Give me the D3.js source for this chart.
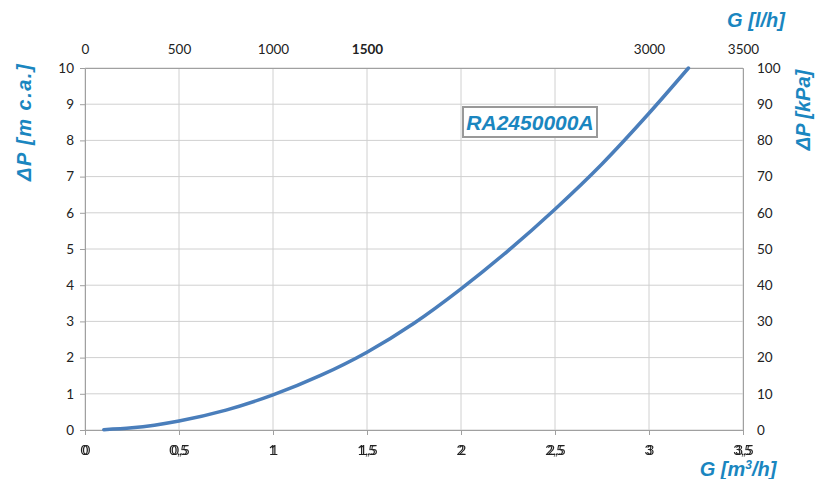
<!DOCTYPE html>
<html>
<head>
<meta charset="utf-8">
<script src="https://cdn.jsdelivr.net/npm/d3@7"></script>
<style>
  body { margin: 0; background: #fff; }
  text { font-family: Lato, "Open Sans", sans-serif; }
</style>
</head>
<body>
<script>
// flow in m3/h and pressure drop in m c.a.
const flowM3h = [0.1, 0.25, 0.5, 0.75, 1, 1.25, 1.5, 1.75, 2, 2.25, 2.5, 2.75, 3, 3.21];
const dropMca = [0.01, 0.06, 0.25, 0.55, 0.97, 1.5, 2.15, 2.95, 3.9, 4.95, 6.1, 7.35, 8.75, 10];

const bottomTicks = [0, 0.5, 1, 1.5, 2, 2.5, 3, 3.5];
const topTicks = [0, 500, 1000, 1500, 3000, 3500];
const leftTicks = [0, 1, 2, 3, 4, 5, 6, 7, 8, 9, 10];
const rightTicks = [0, 10, 20, 30, 40, 50, 60, 70, 80, 90, 100];
const seriesName = "RA2450000A";

const width = 827;
const height = 479;
const plotLeft = 85, plotRight = 743, plotTop = 68, plotBottom = 430;
const blue = "#1a86c0";

const svg = d3
  .select("body")
  .append("svg")
  .attr("width", width)
  .attr("height", height);

// the bottom labels in the original look printed twice, a bit shifted
const defs = svg.append("defs");
const dbl = defs.append("filter").attr("id", "double").attr("x", "-50%").attr("width", "200%");
dbl.append("feOffset").attr("in", "SourceGraphic").attr("dx", -2).attr("dy", 0).attr("result", "shift");
const merge = dbl.append("feMerge");
merge.append("feMergeNode").attr("in", "shift");
merge.append("feMergeNode").attr("in", "SourceGraphic");

const xScale = d3.scaleLinear().domain([0, 3.5]).range([plotLeft, plotRight]);
const xTop = d3.scaleLinear().domain([0, 3500]).range([plotLeft, plotRight]);
const yScale = d3.scaleLinear().domain([0, 10]).range([plotBottom, plotTop]);
const yRight = d3.scaleLinear().domain([0, 100]).range([plotBottom, plotTop]);

// grid
svg
  .append("g")
  .selectAll("line")
  .data(leftTicks)
  .enter()
  .append("line")
  .attr("x1", plotLeft)
  .attr("x2", plotRight)
  .attr("y1", (d) => yScale(d))
  .attr("y2", (d) => yScale(d))
  .attr("stroke", "#d0d0d0")
  .attr("stroke-width", 1);

svg
  .append("g")
  .selectAll("line")
  .data(bottomTicks)
  .enter()
  .append("line")
  .attr("x1", (d) => xScale(d))
  .attr("x2", (d) => xScale(d))
  .attr("y1", plotTop)
  .attr("y2", plotBottom)
  .attr("stroke", "#d0d0d0")
  .attr("stroke-width", 1);

// axes
const fmtComma = (d) => String(d).replace(".", ",");

const leftAxis = svg
  .append("g")
  .attr("transform", `translate(${plotLeft},0)`)
  .call(d3.axisLeft(yScale).tickValues(leftTicks).tickSize(5).tickPadding(6));

const rightAxis = svg
  .append("g")
  .attr("transform", `translate(${plotRight},0)`)
  .call(d3.axisRight(yRight).tickValues(rightTicks).tickSize(0).tickPadding(14));

const bottomAxis = svg
  .append("g")
  .attr("transform", `translate(0,${plotBottom})`)
  .call(d3.axisBottom(xScale).tickValues(bottomTicks).tickSize(5).tickPadding(10).tickFormat(fmtComma));

const topAxis = svg
  .append("g")
  .attr("transform", `translate(0,${plotTop})`)
  .call(d3.axisTop(xTop).tickValues(topTicks).tickSize(0).tickPadding(14).tickFormat(d3.format("d")));

[leftAxis, rightAxis, bottomAxis, topAxis].forEach((g) => {
  g.select(".domain").attr("stroke", "#a0a0a0");
  g.selectAll(".tick line").attr("stroke", "#a0a0a0");
  g.selectAll(".tick text")
    .attr("fill", "#222")
    .style("font-size", "13.5px")
    .style("font-family", "Lato, 'Open Sans', sans-serif");
});

topAxis
  .selectAll(".tick text")
  .style("font-weight", (d) => (d === 1500 ? "bold" : "normal"));

bottomAxis
  .selectAll(".tick text")
  .attr("x", 1)
  .attr("filter", "url(#double)");

// curve
const line = d3
  .line()
  .x((d, i) => xScale(flowM3h[i]))
  .y((d) => yScale(d))
  .curve(d3.curveMonotoneX);

svg
  .append("path")
  .datum(dropMca)
  .attr("d", line)
  .attr("fill", "none")
  .attr("stroke", "#4a7ebb")
  .attr("stroke-width", 3.5)
  .attr("stroke-linecap", "round");

// series label box
const labelG = svg.append("g");
labelG
  .append("rect")
  .attr("x", 463)
  .attr("y", 107)
  .attr("width", 134)
  .attr("height", 30)
  .attr("fill", "#fff")
  .attr("stroke", "#999")
  .attr("stroke-width", 2);
labelG
  .append("text")
  .attr("x", 530)
  .attr("y", 130)
  .attr("text-anchor", "middle")
  .attr("fill", blue)
  .style("font-family", "'Liberation Sans', Arial, sans-serif")
  .style("font-weight", "bold")
  .style("font-style", "italic")
  .style("font-size", "21px")
  .text(seriesName);

// axis titles
const titleStyle = (sel) =>
  sel
    .attr("fill", blue)
    .style("font-family", "'Liberation Sans', Arial, sans-serif")
    .style("font-weight", "bold")
    .style("font-style", "italic")
    .style("font-size", "20px");

svg.append("text").attr("x", 756).attr("y", 27).attr("text-anchor", "middle").call(titleStyle).text("G [l/h]");

const gm = svg.append("text").attr("x", 738).attr("y", 476).attr("text-anchor", "middle").call(titleStyle);
gm.append("tspan").text("G [m");
gm.append("tspan").attr("dy", -7).style("font-size", "12px").text("3");
gm.append("tspan").attr("dy", 7).text("/h]");

svg
  .append("text")
  .attr("transform", "translate(31,122) rotate(-90)")
  .attr("text-anchor", "middle")
  .style("letter-spacing", "1.5px")
  .call(titleStyle)
  .text("ΔP [m c.a.]");

svg
  .append("text")
  .attr("transform", "translate(810,110) rotate(-90)")
  .attr("text-anchor", "middle")
  .call(titleStyle)
  .text("ΔP [kPa]");
</script>
</body>
</html>
